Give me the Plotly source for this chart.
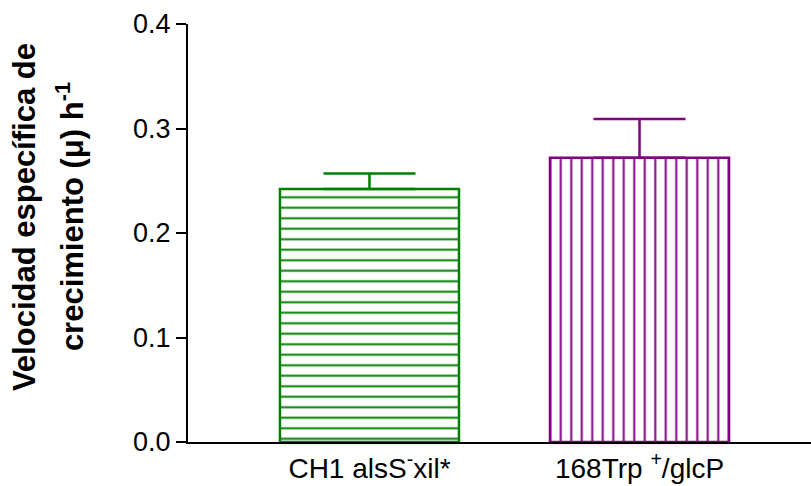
import plotly.graph_objects as go

# Growth-rate data (mean and upper SD) for the two strains
strains = ["CH1 alsS<sup>-</sup>xil*", "168Trp <sup>+</sup>/glcP"]
mu_values = [0.242, 0.272]
mu_sd = [0.015, 0.037]
bar_colors = ["#008000", "#800080"]
hatch_shapes = ["-", "|"]
y_ticks = [0.0, 0.1, 0.2, 0.3, 0.4]

positions = list(range(len(strains)))

fig = go.Figure()
for i, (name, val, sd, col, shp) in enumerate(
        zip(strains, mu_values, mu_sd, bar_colors, hatch_shapes)):
    fig.add_trace(go.Bar(
        x=[positions[i]],
        y=[val],
        width=0.663,
        marker=dict(
            color="white",
            line=dict(color=col, width=2.5),
            pattern=dict(shape=shp, fgcolor=col, bgcolor="white",
                         fgopacity=1, size=10.5, solidity=0.19,
                         fillmode="replace"),
        ),
        error_y=dict(type="data", symmetric=False, array=[sd], arrayminus=[0],
                     color=col, thickness=2.5, width=46),
        showlegend=False,
        hoverinfo="skip",
    ))

font_family = "Liberation Sans, Arial, sans-serif"

fig.update_layout(
    width=811,
    height=486,
    margin=dict(l=188, r=0, t=24, b=44),
    paper_bgcolor="white",
    plot_bgcolor="white",
    barmode="overlay",
    font=dict(family=font_family, color="black", size=28),
    xaxis=dict(
        range=[-0.672, 1.635],
        tickvals=positions,
        ticktext=strains,
        showline=True,
        linecolor="black",
        linewidth=2,
        ticks="",
        showgrid=False,
        zeroline=False,
        tickfont=dict(size=28),
    ),
    yaxis=dict(
        range=[0, 0.4],
        tickvals=y_ticks,
        tickformat=".1f",
        showline=True,
        linecolor="black",
        linewidth=2,
        ticks="outside",
        ticklen=10,
        tickwidth=2,
        tickcolor="black",
        showgrid=False,
        zeroline=False,
        tickfont=dict(size=27),
    ),
)

# Two-line bold y-axis title
title_lines = ["Velocidad específica de", "crecimiento (μ) h<sup>-1</sup>"]
title_offsets = [-164, -118]
for line, dx in zip(title_lines, title_offsets):
    fig.add_annotation(
        text="<b>" + line + "</b>",
        xref="paper", yref="paper",
        x=0, y=0.538, xshift=dx,
        xanchor="center", yanchor="middle",
        textangle=-90,
        showarrow=False,
        font=dict(family=font_family, size=31, color="black"),
    )

fig.write_html("out.html")
